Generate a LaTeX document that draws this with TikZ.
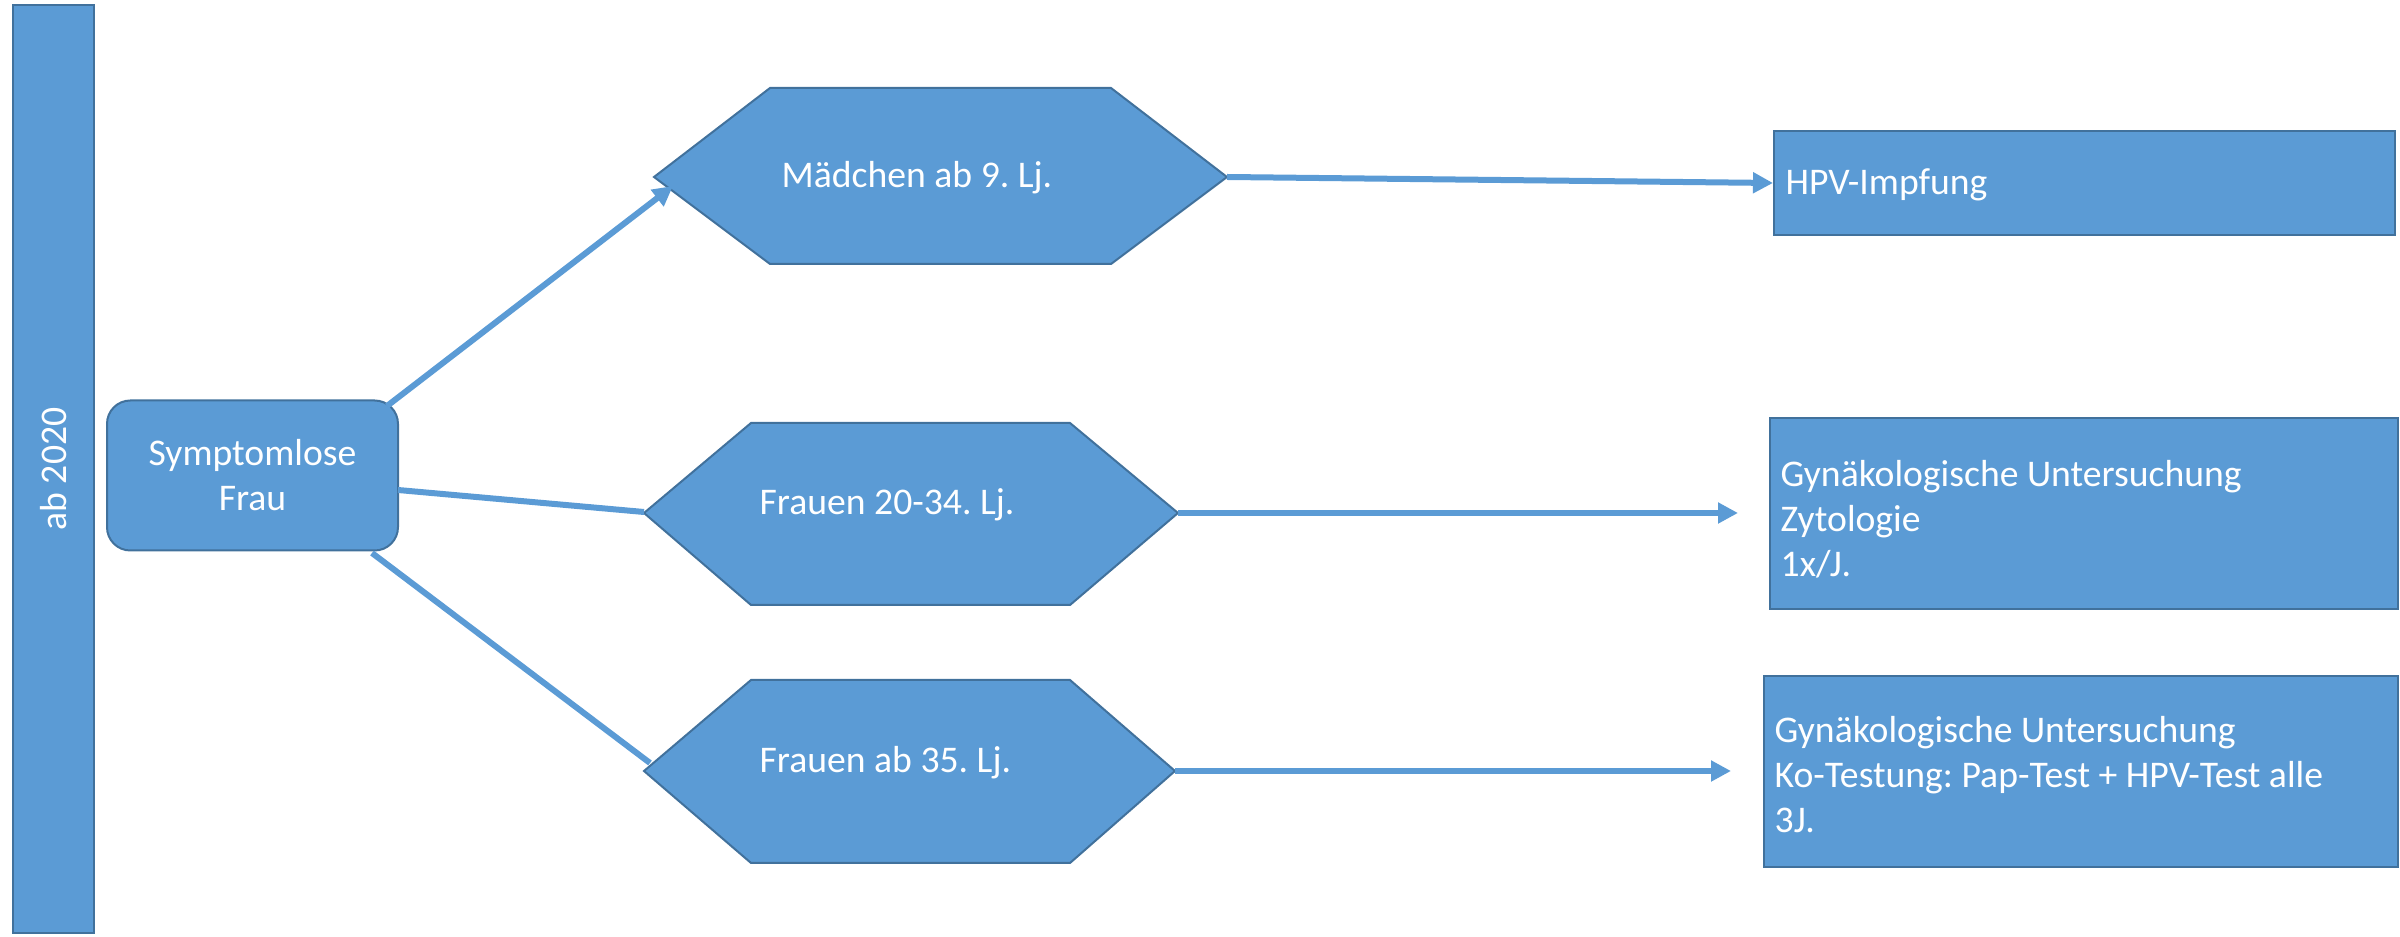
\documentclass[tikz,border=0pt]{standalone}
\usepackage{fontspec}
\setmainfont{Carlito}
\usetikzlibrary{arrows.meta,calc}
\definecolor{fillblue}{HTML}{5B9BD5}
\definecolor{edgeblue}{HTML}{41719C}
\frenchspacing
\begin{document}
\begin{tikzpicture}[x=0.3pt,y=-0.3pt,
  font=\fontsize{11.3}{13.5}\selectfont\frenchspacing,
  shapebox/.style={draw=edgeblue, fill=fillblue, line width=0.6pt, text=white},
  boxtext/.style={text=white, anchor=base west, inner sep=0pt, align=left},
  hextext/.style={text=white, anchor=base west, inner sep=0pt},
  conn/.style={draw=fillblue, line width=1.8pt},
  arr/.style={conn, -{Triangle[length=6pt,width=6pt]}}]
\useasboundingbox (0,0) rectangle (2400,937);

% left bar
\node[shapebox, rotate=90, minimum width=278.4pt, minimum height=24.3pt, inner sep=0pt] (bar) at (53.5,469) {ab 2020};

% start node
\node[shapebox, rounded corners=7pt, minimum width=87.3pt, minimum height=45pt, align=center, inner sep=0pt] (sy) at (252.5,475.5) {Symptomlose\\Frau};

% hexagons
\coordinate (h1w) at (654,177); \coordinate (h1e) at (1227,177);
\draw[shapebox] (h1w) -- (770,88) -- (1111,88) -- (h1e) -- (1111,264) -- (770,264) -- cycle;
\node[hextext] (h1) at (781,188) {Mädchen ab 9. Lj.};

\coordinate (h2w) at (644,513); \coordinate (h2e) at (1178,513);
\draw[shapebox] (h2w) -- (751,423) -- (1070,423) -- (h2e) -- (1070,605) -- (751,605) -- cycle;
\node[hextext] (h2) at (759,515) {Frauen 20-34. Lj.};

\coordinate (h3w) at (644,771); \coordinate (h3e) at (1175,771);
\draw[shapebox] (h3w) -- (751,680) -- (1070,680) -- (h3e) -- (1070,863) -- (751,863) -- cycle;
\node[hextext] (h3) at (759,773) {Frauen ab 35. Lj.};

% result boxes
\node[shapebox, minimum width=186.3pt, minimum height=31.2pt, inner sep=0pt] (r1) at (2084.5,183) {};
\node[boxtext] (t1) at (1785,195) {HPV-Impfung};
\node[shapebox, minimum width=188.4pt, minimum height=57.3pt, inner sep=0pt] (r2) at (2084,513.5) {};
\node[boxtext] (t2) at (1780,577) {Gynäkologische Untersuchung\\Zytologie\\1x/J.};
\node[shapebox, minimum width=190.2pt, minimum height=57.3pt, inner sep=0pt] (r3) at (2081,771.5) {};
\node[boxtext] (t3) at (1774,833) {Gynäkologische Untersuchung\\Ko-Testung: Pap-Test + HPV-Test alle\\3J.};

% connector end points
\coordinate (s1) at (387,406);
\coordinate (e1) at (673,186);
\coordinate (s2) at (398,490);
\coordinate (e2) at (644,512);
\coordinate (s3) at (372,553);
\coordinate (e3) at (650,763);
\coordinate (a2) at (1738,513);
\coordinate (a3) at (1731,771);

\draw[arr] (s1) -- (e1);
\draw[conn] (s2) -- (e2);
\draw[conn] (s3) -- (e3);
\draw[arr] (h1e) -- (r1.west);
\draw[arr] (h2e) -- (a2);
\draw[arr] (h3e) -- (a3);
\end{tikzpicture}
\end{document}
